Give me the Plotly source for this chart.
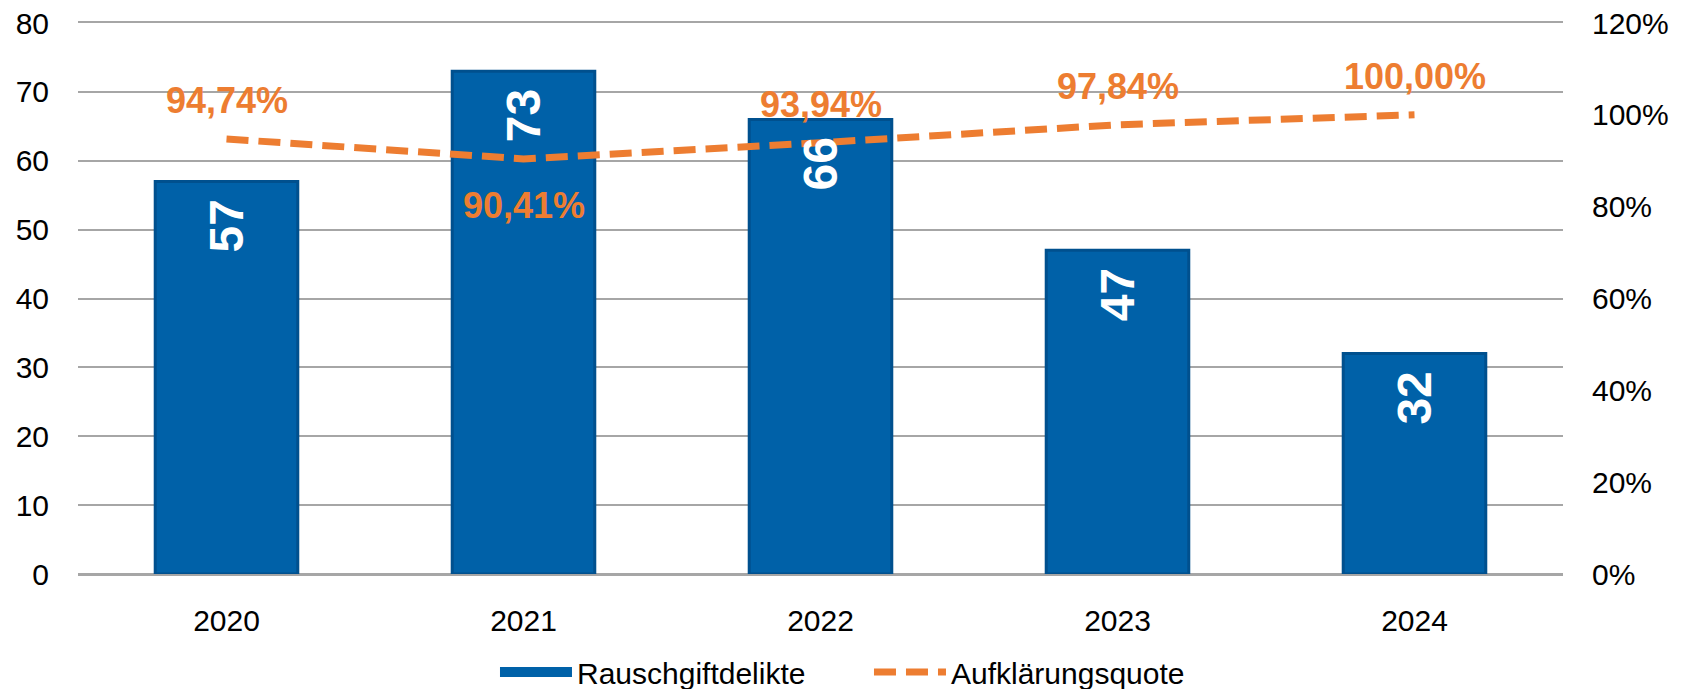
import plotly.graph_objects as go

# ---- data ----
years = ["2020", "2021", "2022", "2023", "2024"]
rauschgiftdelikte = [57, 73, 66, 47, 32]
aufklaerungsquote = [94.74, 90.41, 93.94, 97.84, 100.00]
left_tickvals = [0, 10, 20, 30, 40, 50, 60, 70, 80]
right_tickvals = [0, 20, 40, 60, 80, 100, 120]
right_ticktext = [f"{v}%" for v in right_tickvals]

# ---- style ----
FONT = "Arial, 'Liberation Sans', sans-serif"
BAR_FILL = "#0061A8"
BAR_LINE = "#00508E"
ORANGE = "#ED7D31"
GRID = "#A6A6A6"
labels_below = {"2021"}

fig = go.Figure()
fig.add_trace(go.Bar(
    x=years, y=rauschgiftdelikte, name="Rauschgiftdelikte",
    marker=dict(color=BAR_FILL, line=dict(color=BAR_LINE, width=3)),
    yaxis="y", showlegend=False, legendgroup="bars",
))
# legend entry for the bars (wide rectangle symbol, as in the reference)
fig.add_trace(go.Scatter(
    x=[None], y=[None], name="Rauschgiftdelikte", mode="lines",
    line=dict(color=BAR_FILL, width=18), legendgroup="bars",
    hoverinfo="skip",
))
fig.add_trace(go.Scatter(
    x=years, y=aufklaerungsquote, name="Aufklärungsquote", mode="lines",
    line=dict(color=ORANGE, width=7, dash="22px,10px"),
    yaxis="y2",
))

annotations = []
for i, v in enumerate(rauschgiftdelikte):
    annotations.append(dict(
        x=i, y=v, xref="x", yref="y", text=f"<b>{v}</b>", showarrow=False,
        textangle=-90, yanchor="top", xanchor="center", yshift=-16,
        font=dict(family=FONT, size=48, color="white"),
    ))
for i, (yr, q) in enumerate(zip(years, aufklaerungsquote)):
    txt = f"{q:.2f}".replace(".", ",") + "%"
    below = yr in labels_below
    annotations.append(dict(
        x=i, y=q, xref="x", yref="y2", text=f"<b>{txt}</b>", showarrow=False,
        yanchor="middle", xanchor="center", yshift=(-47 if below else 38),
        font=dict(family=FONT, size=36, color=ORANGE),
    ))

# the page body adds an 8px offset, so the figure is drawn 8px smaller
fig.update_layout(
    width=1681, height=681,
    margin=dict(l=70, r=126, t=15, b=115, pad=0, autoexpand=False),
    paper_bgcolor="white", plot_bgcolor="white",
    font=dict(family=FONT, size=30, color="black"),
    bargap=0.52,
    showlegend=True,
    legend=dict(
        orientation="h", x=0.2808, xanchor="left", y=-0.178, yanchor="middle",
        font=dict(family=FONT, size=30, color="black"),
        itemwidth=72, entrywidth=287, entrywidthmode="pixels",
        bgcolor="rgba(0,0,0,0)", traceorder="normal",
    ),
    xaxis=dict(
        type="category", range=[-0.5, len(years) - 0.5], autorange=False,
        showgrid=False, zeroline=False, automargin=False,
        showline=True, mirror=True, linecolor=GRID, linewidth=2,
        ticks="", ticklabelstandoff=19, tickfont=dict(size=30),
        ticklabeloverflow="allow",
    ),
    yaxis=dict(
        range=[0, 80], tickvals=left_tickvals, showgrid=True, gridcolor=GRID,
        gridwidth=2, zeroline=True, zerolinecolor=GRID, zerolinewidth=2,
        showline=False, ticks="", ticklabelstandoff=28, tickfont=dict(size=30),
        automargin=False, ticklabeloverflow="allow",
    ),
    yaxis2=dict(
        range=[0, 120], tickvals=right_tickvals, ticktext=right_ticktext,
        overlaying="y", side="right", showgrid=False, zeroline=False,
        showline=False, ticks="", ticklabelstandoff=28, tickfont=dict(size=30),
        automargin=False, ticklabeloverflow="allow",
    ),
    annotations=annotations,
)

fig.write_html("out.html")
